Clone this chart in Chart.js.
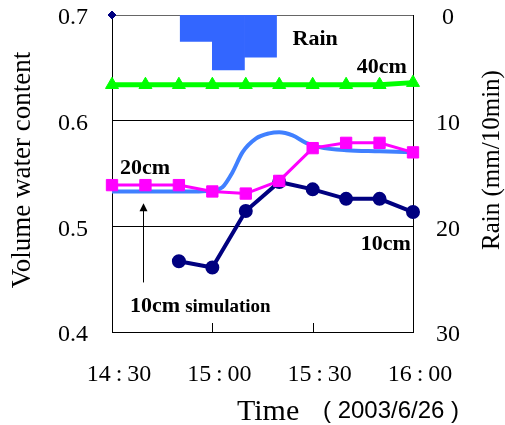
<!DOCTYPE html>
<html>
<head>
<meta charset="utf-8">
<script src="https://cdn.jsdelivr.net/npm/chart.js@4"></script>
<style>
  html, body { margin: 0; padding: 0; background: #fff; }
</style>
</head>
<body>
<canvas id="chart" width="505" height="425"></canvas>
<script>
// time in minutes after 14:30
const timeMinutes = [0, 10, 20, 30, 40, 50, 60, 70, 80, 90];
const water40cm = [0.634, 0.634, 0.634, 0.634, 0.634, 0.634, 0.634, 0.634, 0.634, 0.636];
const water20cm = [0.539, 0.539, 0.539, 0.533, 0.531, 0.543, 0.574, 0.579, 0.579, 0.570];
const water10cm = [null, null, 0.467, 0.461, 0.5145, 0.542, 0.535, 0.526, 0.526, 0.5135];

const simTime = [0, 10, 20, 26, 30, 33, 36, 39, 43, 47, 50, 54, 58, 62, 70, 80, 90];
const sim10cm = [0.533, 0.533, 0.533, 0.533, 0.534, 0.537, 0.551, 0.570, 0.583, 0.588, 0.589, 0.586, 0.579, 0.575, 0.572, 0.571, 0.570];

// rain per 10 min, bar centres in minutes after 14:30
const rainTime = [25.2, 34.8, 44.4];
const rainMm = [2.5, 5.2, 4.0];

const markerTime = [0];
const markerValue = [0.7];

const xTickValues = [0, 30, 60, 90];
const xTickLabels = ['14\u2009:\u200930', '15\u2009:\u200900', '15\u2009:\u200930', '16\u2009:\u200900'];

const serif = '"Liberation Serif", "Times New Roman", serif';
const sans = '"Liberation Sans", Arial, sans-serif';

const pts = (xs, ys) => xs.map((x, i) => ({ x: x, y: ys[i] })).filter(p => p.y !== null);

// text notes placed in data units (minutes, water content)
const notes = [
  { text: 'Rain', x: 54, y: 0.6716 },
  { text: '40cm', x: 73.2, y: 0.645 },
  { text: '20cm', x: 2.4, y: 0.550 },
  { text: '10cm', x: 74.4, y: 0.4773 }
];

// drop the label overhang chart.js reserves, the layout is fixed by hand
const noPad = s => {
  s.paddingTop = 0;
  s.paddingBottom = 0;
  s.paddingLeft = 0;
  s.paddingRight = 0;
};

const annotate = {
  id: 'annotate',
  afterDatasetsDraw(chart) {
    const ctx = chart.ctx;
    const a = chart.chartArea;
    const x = chart.scales.x;
    const y = chart.scales.y;
    ctx.save();
    // inner tick marks on the time axis
    ctx.strokeStyle = '#000';
    ctx.lineWidth = 1;
    x.ticks.forEach(t => {
      const px = Math.round(x.getPixelForValue(t.value)) + 0.5;
      ctx.beginPath();
      ctx.moveTo(px, a.bottom);
      ctx.lineTo(px, a.bottom - 9);
      ctx.stroke();
    });

    ctx.fillStyle = '#000';
    ctx.textAlign = 'left';
    ctx.textBaseline = 'alphabetic';
    ctx.font = 'bold 22px ' + serif;
    notes.forEach(n => ctx.fillText(n.text, x.getPixelForValue(n.x), y.getPixelForValue(n.y)));

    // "10cm simulation" with arrow
    const sx = x.getPixelForValue(5.4);
    const sy = y.getPixelForValue(0.4185);
    ctx.fillText('10cm', sx, sy);
    const w = ctx.measureText('10cm').width;
    ctx.font = 'bold 19px ' + serif;
    ctx.fillText('simulation', sx + w + 5, sy);

    const ax = Math.round(x.getPixelForValue(9.15)) + 0.5;
    const tip = y.getPixelForValue(0.5218);
    ctx.beginPath();
    ctx.moveTo(ax, y.getPixelForValue(0.4469));
    ctx.lineTo(ax, tip + 6);
    ctx.stroke();
    ctx.beginPath();
    ctx.moveTo(ax, tip);
    ctx.lineTo(ax - 4, tip + 8);
    ctx.lineTo(ax + 4, tip + 8);
    ctx.closePath();
    ctx.fill();
    ctx.restore();
  },
  afterDraw(chart) {
    const ctx = chart.ctx;
    ctx.save();
    ctx.fillStyle = '#000';
    ctx.textAlign = 'center';
    ctx.textBaseline = 'middle';

    ctx.save();
    ctx.translate(23, 170);
    ctx.rotate(-Math.PI / 2);
    ctx.font = '27px ' + serif;
    ctx.fillText('Volume water content', 0, 0);
    ctx.restore();

    ctx.save();
    ctx.translate(492, 160);
    ctx.rotate(-Math.PI / 2);
    ctx.font = '25px ' + serif;
    ctx.fillText('Rain (mm/10min)', 0, 0);
    ctx.restore();

    ctx.textAlign = 'left';
    ctx.textBaseline = 'alphabetic';
    ctx.font = '30px ' + serif;
    ctx.fillText('Time', 237, 420);
    ctx.font = '24px ' + sans;
    ctx.fillText('( 2003/6/26 )', 323, 418);
    ctx.restore();
  }
};

new Chart(document.getElementById('chart'), {
  type: 'line',
  data: {
    datasets: [
      {
        label: 'marker',
        data: pts(markerTime, markerValue),
        yAxisID: 'y',
        showLine: false,
        pointStyle: 'rectRot',
        pointRadius: 4,
        backgroundColor: '#000080',
        borderColor: '#000080',
        clip: false,
        order: 0
      },
      {
        label: '40cm',
        data: pts(timeMinutes, water40cm),
        yAxisID: 'y',
        borderColor: '#00ff00',
        backgroundColor: '#00ff00',
        borderWidth: 5,
        pointStyle: 'triangle',
        pointRadius: 7.5,
        pointBorderWidth: 1,
        clip: false,
        order: 1
      },
      {
        label: '20cm',
        data: pts(timeMinutes, water20cm),
        yAxisID: 'y',
        borderColor: '#ff00ff',
        backgroundColor: '#ff00ff',
        borderWidth: 3,
        pointStyle: 'rect',
        pointRadius: 8,
        pointBorderWidth: 1,
        clip: false,
        order: 2
      },
      {
        label: '10cm',
        data: pts(timeMinutes, water10cm),
        yAxisID: 'y',
        borderColor: '#000080',
        backgroundColor: '#000080',
        borderWidth: 4,
        pointStyle: 'circle',
        pointRadius: 5,
        clip: false,
        order: 3
      },
      {
        label: '10cm simulation',
        data: pts(simTime, sim10cm),
        yAxisID: 'y',
        borderColor: '#4080ff',
        borderWidth: 4,
        pointRadius: 0,
        cubicInterpolationMode: 'monotone',
        order: 4
      },
      {
        type: 'bar',
        label: 'Rain',
        data: pts(rainTime, rainMm),
        yAxisID: 'y2',
        backgroundColor: '#3366ff',
        borderWidth: 0,
        barPercentage: 1,
        categoryPercentage: 1,
        order: 5
      }
    ]
  },
  options: {
    responsive: false,
    animation: false,
    devicePixelRatio: 1,
    layout: { padding: { top: 15, right: 0, bottom: 0, left: 0 } },
    plugins: { legend: { display: false }, tooltip: { enabled: false } },
    scales: {
      x: {
        type: 'linear',
        min: 0,
        max: 90,
        offset: false,
        afterBuildTicks: s => { s.ticks = xTickValues.map(v => ({ value: v })); },
        afterFit: s => { s.height = 93; noPad(s); },
        grid: { display: false, drawTicks: false },
        border: { display: true, color: '#000', width: 1 },
        ticks: {
          padding: 28,
          labelOffset: 7,
          maxRotation: 0,
          color: '#000',
          font: { family: serif, size: 24 },
          callback: v => xTickLabels[xTickValues.indexOf(v)]
        }
      },
      y: {
        position: 'left',
        min: 0.4,
        max: 0.7,
        afterFit: s => { s.width = 112; noPad(s); },
        grid: {
          drawTicks: false,
          color: c => (c.tick && c.tick.value > 0.69 ? '#666' : '#000'),
          lineWidth: 1
        },
        border: { display: true, color: '#000', width: 1 },
        ticks: {
          stepSize: 0.1,
          padding: 24,
          labelOffset: 3,
          color: '#000',
          font: { family: serif, size: 24 },
          callback: v => v.toFixed(1)
        }
      },
      y2: {
        position: 'right',
        min: 0,
        max: 30,
        reverse: true,
        afterFit: s => { s.width = 92; noPad(s); },
        grid: { display: false, drawTicks: false },
        border: { display: true, color: '#000', width: 1 },
        ticks: {
          stepSize: 10,
          padding: 23,
          labelOffset: 3,
          crossAlign: 'center',
          color: '#000',
          font: { family: serif, size: 24 }
        }
      }
    }
  },
  plugins: [annotate]
});
</script>
</body>
</html>
